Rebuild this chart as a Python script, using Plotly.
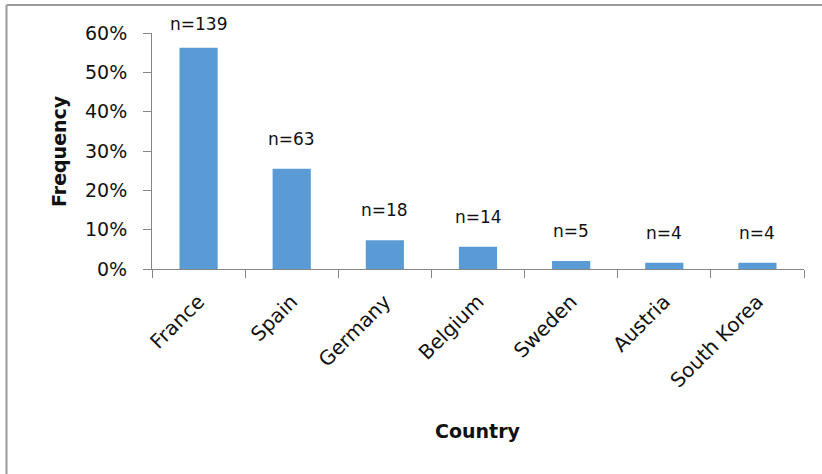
import plotly.graph_objects as go

countries = ["France", "Spain", "Germany", "Belgium", "Sweden", "Austria", "South Korea"]
counts = [139, 63, 18, 14, 5, 4, 4]
y_ticks = [0, 0.1, 0.2, 0.3, 0.4, 0.5, 0.6]
y_tick_labels = ["0%", "10%", "20%", "30%", "40%", "50%", "60%"]

total = sum(counts)
freq = [c / total for c in counts]

W, H = 822, 474
L, R, T, B = 152, 18, 33, 205
plot_w = W - L - R
plot_h = H - T - B
y_max = 0.6
ppu = plot_h / y_max

FONT = "DejaVu Sans"
AXIS = "#868686"
TEXT = "#111111"

fig = go.Figure(
    go.Bar(
        x=countries,
        y=freq,
        marker=dict(color="#5B9BD5", line=dict(width=0)),
        width=0.41,
        hoverinfo="x+y",
    )
)

# n= labels above each bar, kept inside the top of the plot area
annotations = []
for name, n, f in zip(countries, counts, freq):
    shift = min(18, (y_max - f) * ppu - 3)
    annotations.append(
        dict(
            x=name, y=f, xref="x", yref="y",
            text=f"n={n}", showarrow=False,
            yanchor="bottom", yshift=shift,
            font=dict(family=FONT, size=17, color=TEXT),
        )
    )

# axis titles
annotations.append(
    dict(
        x=0.5, y=0, xref="paper", yref="paper",
        text="<b>Country</b>", showarrow=False,
        yanchor="middle", yshift=-(431 - (H - B)),
        font=dict(family=FONT, size=19, color=TEXT),
    )
)
annotations.append(
    dict(
        x=0, y=0.5, xref="paper", yref="paper",
        text="<b>Frequency</b>", showarrow=False,
        textangle=-90, xanchor="center", xshift=-(L - 59),
        font=dict(family=FONT, size=19, color=TEXT),
    )
)

def px_x(p):
    return (p - L) / plot_w

def px_y(p):
    return (H - B - p) / plot_h

shapes = [
    dict(type="line", xref="paper", yref="paper",
         x0=px_x(6.5), x1=px_x(W + 10), y0=px_y(5), y1=px_y(5),
         line=dict(color="#9a9a9a", width=2)),
    dict(type="line", xref="paper", yref="paper",
         x0=px_x(6.5), x1=px_x(6.5), y0=px_y(5), y1=px_y(H + 10),
         line=dict(color="#9a9a9a", width=2)),
]

fig.update_layout(
    width=W, height=H,
    margin=dict(l=L, r=R, t=T, b=B, pad=0),
    paper_bgcolor="white", plot_bgcolor="white",
    showlegend=False,
    bargap=0.59,
    annotations=annotations,
    shapes=shapes,
    font=dict(family=FONT, size=17, color=TEXT),
    xaxis=dict(
        type="category",
        showline=True, linecolor=AXIS, linewidth=1,
        ticks="outside", tickson="boundaries", ticklen=8,
        tickcolor=AXIS, tickwidth=1,
        tickangle=-45, ticklabelstandoff=12,
        tickfont=dict(family=FONT, size=20, color=TEXT),
        showgrid=False, zeroline=False,
    ),
    yaxis=dict(
        range=[0, y_max],
        tickvals=y_ticks, ticktext=y_tick_labels,
        showline=True, linecolor=AXIS, linewidth=1,
        ticks="outside", ticklen=8, tickcolor=AXIS, tickwidth=1,
        ticklabelstandoff=12,
        tickfont=dict(family=FONT, size=19, color=TEXT),
        showgrid=False, zeroline=False,
    ),
)

fig.write_html("out.html")
